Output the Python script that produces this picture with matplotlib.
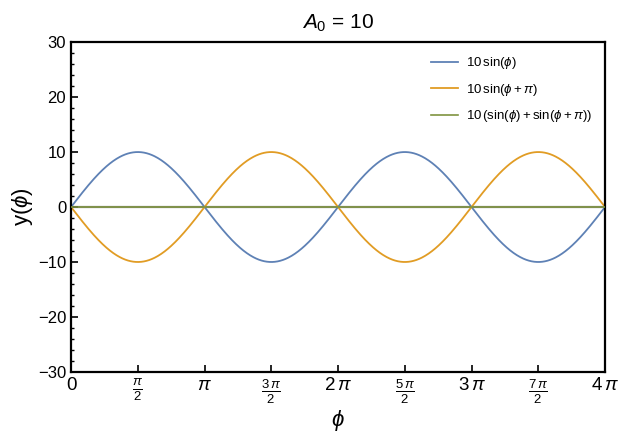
import numpy as np
import matplotlib
matplotlib.use("Agg")
from matplotlib import pyplot as plt
from matplotlib.ticker import MultipleLocator

plt.rcParams['font.family'] = ['Liberation Sans', 'DejaVu Sans']
plt.rcParams['mathtext.fontset'] = 'custom'
plt.rcParams['mathtext.rm'] = 'Liberation Sans'
plt.rcParams['mathtext.it'] = 'Liberation Sans:italic'
plt.rcParams['mathtext.fallback'] = 'cm'

# amplitude and phases of the two waves (A0 = 10)
A0 = 10
phases = [0, np.pi]
labels = [r'$10\,\sin(\phi)$', r'$10\,\sin(\phi + \pi)$',
          r'$10\,(\sin(\phi) + \sin(\phi + \pi))$']
colors = ['#5E81B5', '#E19C24', '#7f9440']

x_ticks = [k * np.pi / 2 for k in range(9)]
x_ticklabels = ['0', r'$\frac{\pi}{2}$', r'$\pi$', r'$\frac{3\,\pi}{2}$', r'$2\,\pi$',
                r'$\frac{5\,\pi}{2}$', r'$3\,\pi$', r'$\frac{7\,\pi}{2}$', r'$4\,\pi$']

phi = np.linspace(0, 4 * np.pi, 800)
y1 = A0 * np.sin(phi + phases[0])
y2 = A0 * np.sin(phi + phases[1])
y3 = y1 + y2

fig = plt.figure(figsize=(6.18, 4.34), dpi=100)
ax = fig.add_axes([0.115, 0.143, 0.864, 0.760])

ax.axhline(0, color='#888888', lw=1.6, zorder=1)
ax.plot(phi, y1, color=colors[0], lw=1.3, label=labels[0], zorder=2)
ax.plot(phi, y2, color=colors[1], lw=1.3, label=labels[1], zorder=2)
ax.plot(phi, y3, color=colors[2], lw=1.2, label=labels[2], zorder=3)

ax.set_xlim(0, 4 * np.pi)
ax.set_ylim(-30, 30)
ax.set_xticks(x_ticks)
ax.set_xticklabels(x_ticklabels)
ax.yaxis.set_major_locator(MultipleLocator(10))
ax.yaxis.set_minor_locator(MultipleLocator(2))

for s in ax.spines.values():
    s.set_linewidth(1.6)
ax.tick_params(axis='both', which='major', direction='in', length=5, width=1.2,
               labelsize=12, top=False, right=False)
ax.tick_params(axis='y', which='minor', direction='in', length=2.5, width=1.0, right=False)
ax.tick_params(axis='x', which='both', labelsize=13.5, pad=4)

ax.set_title(r'$A_0$ = 10', fontsize=15, pad=10)
ax.set_xlabel(r'$\phi$', fontsize=16, labelpad=2)
ax.set_ylabel(r'y($\phi$)', fontsize=16, labelpad=2)

ax.legend(loc='upper right', frameon=False, fontsize=9.5, handlelength=2.0,
          borderaxespad=0.6, labelspacing=0.8, handletextpad=0.6)

fig.savefig('out.png', dpi=100)
